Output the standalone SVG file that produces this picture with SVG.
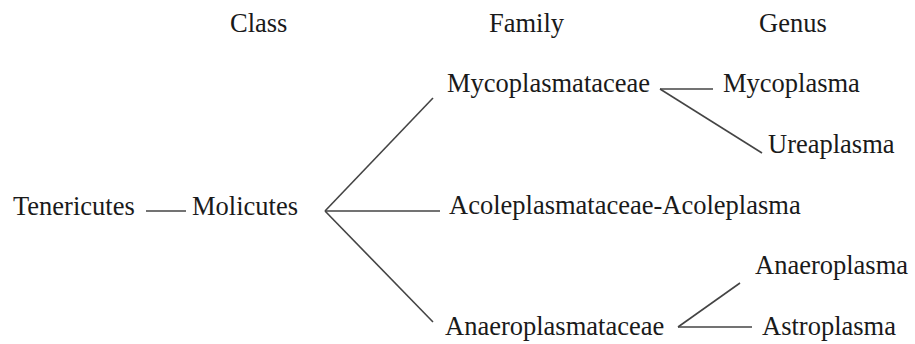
<svg xmlns="http://www.w3.org/2000/svg" width="915" height="344" viewBox="0 0 915 344">
<style>
.t{font-family:'Liberation Serif','Times New Roman','DejaVu Serif',serif;font-size:26.5px;fill:#1a1a1a}
.c line{stroke:#444;stroke-width:1.6;fill:none}
</style>
<rect width="915" height="344" fill="#fff"/>
<g class="t" font-family="Liberation Serif, serif">
<g id="headers">
<text x="230" y="32">Class</text>
<text x="489" y="32">Family</text>
<text x="759" y="32">Genus</text>
</g>
<g id="tenericutes"><text x="13" y="215">Tenericutes</text></g>
<g id="molicutes"><text x="192" y="215">Molicutes</text></g>
<g id="mycoplasmataceae"><text x="447" y="92">Mycoplasmataceae</text></g>
<g id="acoleplasmataceae"><text x="449" y="214">Acoleplasmataceae-Acoleplasma</text></g>
<g id="anaeroplasmataceae"><text x="445" y="335">Anaeroplasmataceae</text></g>
<g id="mycoplasma"><text x="723" y="92">Mycoplasma</text></g>
<g id="ureaplasma"><text x="768" y="153">Ureaplasma</text></g>
<g id="anaeroplasma"><text x="755" y="274">Anaeroplasma</text></g>
<g id="astroplasma"><text x="762" y="335">Astroplasma</text></g>
</g>
<g id="connectors" class="c">
<line x1="146" y1="211" x2="186" y2="211"/>
<line x1="325" y1="211" x2="433" y2="98"/>
<line x1="325" y1="211" x2="440" y2="211"/>
<line x1="325" y1="211" x2="433" y2="322"/>
<line x1="660" y1="89" x2="713" y2="89"/>
<line x1="660" y1="89" x2="762" y2="153"/>
<line x1="678" y1="327" x2="740" y2="283"/>
<line x1="678" y1="327" x2="752" y2="327"/>
</g>
</svg>
